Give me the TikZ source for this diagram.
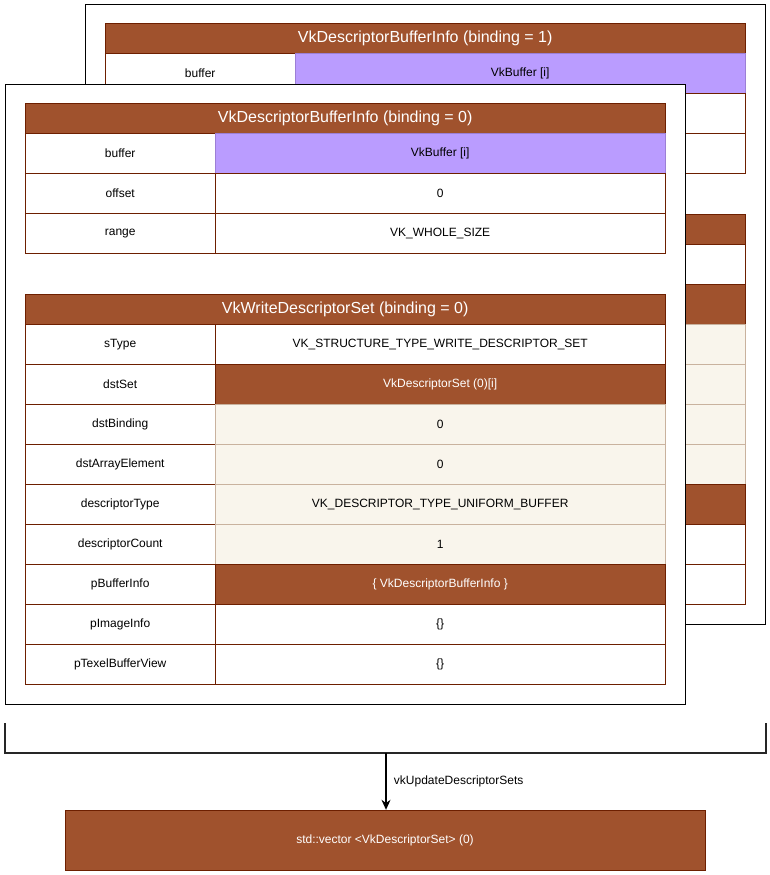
\documentclass[tikz,border=0pt]{standalone}
\usepackage{fontspec}
\setmainfont{Liberation Sans}
\usetikzlibrary{arrows.meta,positioning,calc}

\definecolor{vkbrown}{HTML}{A0522D}
\definecolor{vkline}{HTML}{6D1F00}
\definecolor{vkpurple}{HTML}{BA9CFF}
\definecolor{vkpurpleline}{HTML}{9C7FD6}
\definecolor{vkbeige}{HTML}{F9F5EC}
\definecolor{vkbeigeline}{HTML}{C9B29E}

\tikzset{
  card/.style={draw=black, fill=white, line width=1pt, minimum width=680pt, minimum height=620pt, anchor=north west, inner sep=0pt},
  hdr/.style={draw=vkline, fill=vkbrown, text=white, font=\fontsize{16}{19}\selectfont, minimum width=640pt, minimum height=30pt, anchor=north west, inner sep=0pt},
  key/.style={draw=vkline, fill=white, font=\fontsize{12}{14}\selectfont, minimum width=190pt, minimum height=40pt, anchor=north west, inner sep=0pt},
  val/.style={key, minimum width=450pt},
  valdark/.style={val, fill=vkbrown, text=white},
  valpurple/.style={val, fill=vkpurple, draw=vkpurpleline},
  valbeige/.style={val, fill=vkbeige, draw=vkbeigeline},
}

% the card behind only shows its first row
\newif\ifvkback
\newcommand\vkshow[1]{\ifvkback\else#1\fi}

% one row of a struct table: prefix, name, top, field, value style, value
\newcommand\vkrow[6]{%
  \node[key] (#1#2k) at (20,#3) {#4};
  \node[#5] (#1#2v) at (210,#3) {#6};}

% one card: prefix, binding, top left corner
\newcommand\vkcard[3]{%
  \begin{scope}[shift={#3}]
    \node[card] (#1card) at (0,0) {};
    % VkDescriptorBufferInfo
    \node[hdr] (#1info) at (20,19) {VkDescriptorBufferInfo (binding = #2)};
    \vkrow{#1}{buf}{49}{buffer}{valpurple}{VkBuffer [i]}
    \vkrow{#1}{off}{89}{\vkshow{offset}}{val}{\vkshow{0}}
    \vkrow{#1}{rng}{129}{\vkshow{range}}{val}{\vkshow{VK\_WHOLE\_SIZE}}
    % VkWriteDescriptorSet
    \node[hdr] (#1write) at (20,210) {\vkshow{VkWriteDescriptorSet (binding = #2)}};
    \vkrow{#1}{stype}{240}{\vkshow{sType}}{val}{\vkshow{VK\_STRUCTURE\_TYPE\_WRITE\_DESCRIPTOR\_SET}}
    \vkrow{#1}{dset}{280}{\vkshow{dstSet}}{valdark}{\vkshow{VkDescriptorSet (0)[i]}}
    \vkrow{#1}{dbind}{320}{\vkshow{dstBinding}}{valbeige}{\vkshow{0}}
    \vkrow{#1}{darr}{360}{\vkshow{dstArrayElement}}{valbeige}{\vkshow{0}}
    \vkrow{#1}{dtype}{400}{\vkshow{descriptorType}}{valbeige}{\vkshow{VK\_DESCRIPTOR\_TYPE\_UNIFORM\_BUFFER}}
    \vkrow{#1}{dcnt}{440}{\vkshow{descriptorCount}}{valbeige}{\vkshow{1}}
    \vkrow{#1}{pbuf}{480}{\vkshow{pBufferInfo}}{valdark}{\vkshow{\{ VkDescriptorBufferInfo \}}}
    \vkrow{#1}{pimg}{520}{\vkshow{pImageInfo}}{val}{\vkshow{\{\}}}
    \vkrow{#1}{ptex}{560}{\vkshow{pTexelBufferView}}{val}{\vkshow{\{\}}}
  \end{scope}}

\begin{document}
\begin{tikzpicture}[
  x=1pt, y=-1pt,
  bracket/.style={line width=2pt, draw=black!85},
  arrow/.style={-{Stealth[length=10pt,width=9pt]}, line width=1.3pt},
  outbox/.style={draw=vkline, fill=vkbrown, text=white, font=\fontsize{12}{14}\selectfont, minimum width=640pt, minimum height=60pt, inner sep=0pt}
]
\useasboundingbox (0,0) rectangle (770,875);

\vkbacktrue
\vkcard{b}{1}{(85,4)}
\vkbackfalse
\vkcard{f}{0}{(5,84)}

% all bindings feed the update
\coordinate (brl) at (5,723);
\coordinate (brr) at (766,723);
\coordinate (brmid) at (386,753);
\draw[bracket] (brl) -- ++(0,30) -| (brr);

\node[outbox] (vec) at (385,840) {std::vector <VkDescriptorSet> (0)};
\draw[arrow] (brmid) -- (brmid |- vec.north)
  node[midway, right, xshift=4pt, font=\fontsize{12}{14}\selectfont] (upd) {vkUpdateDescriptorSets};

\end{tikzpicture}
\end{document}
